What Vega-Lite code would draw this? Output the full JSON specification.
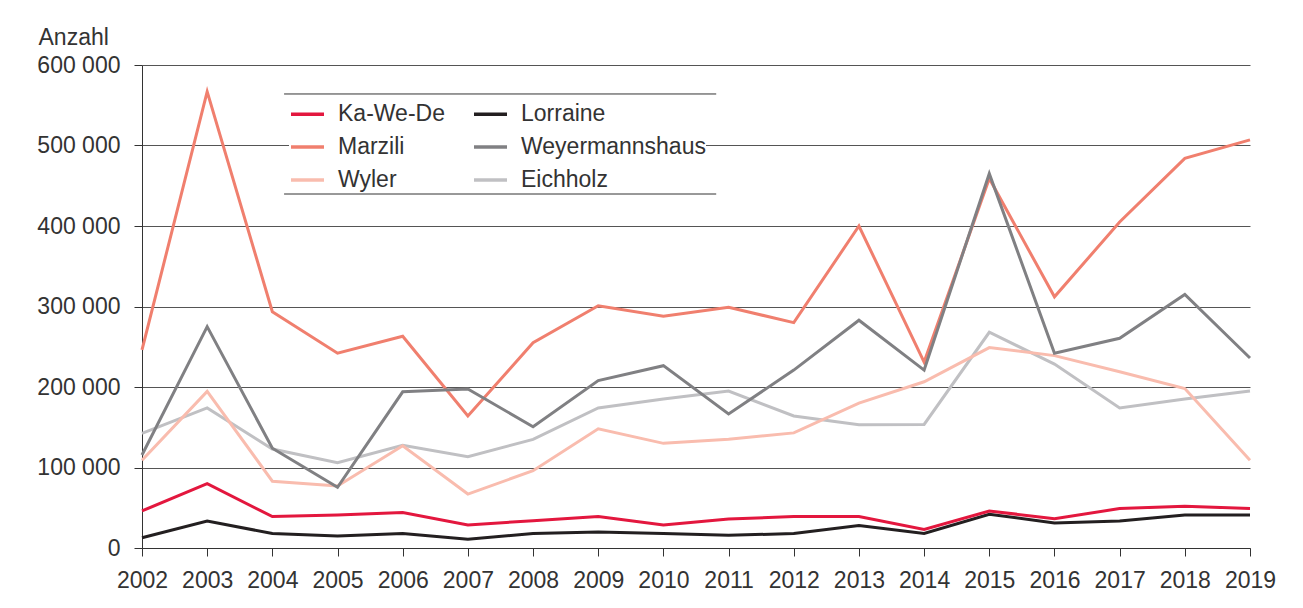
{
  "$schema": "https://vega.github.io/schema/vega-lite/v6.json",
  "width": 1108,
  "height": 483,
  "autosize": "none",
  "padding": {"left": 142, "top": 65, "right": 53, "bottom": 60},
  "background": "white",
  "config": {"font": "Liberation Sans", "view": {"stroke": null}},
  "layer": [
    {
      "data": {"values": [
        {"year": 2002, "site": "Eichholz", "value": 142500}, {"year": 2003, "site": "Eichholz", "value": 174000}, {"year": 2004, "site": "Eichholz", "value": 123000}, {"year": 2005, "site": "Eichholz", "value": 106000}, {"year": 2006, "site": "Eichholz", "value": 127500}, {"year": 2007, "site": "Eichholz", "value": 113500}, {"year": 2008, "site": "Eichholz", "value": 135000}, {"year": 2009, "site": "Eichholz", "value": 174000}, {"year": 2010, "site": "Eichholz", "value": 185000}, {"year": 2011, "site": "Eichholz", "value": 195000}, {"year": 2012, "site": "Eichholz", "value": 164000}, {"year": 2013, "site": "Eichholz", "value": 153000}, {"year": 2014, "site": "Eichholz", "value": 153500}, {"year": 2015, "site": "Eichholz", "value": 268000}, {"year": 2016, "site": "Eichholz", "value": 228500}, {"year": 2017, "site": "Eichholz", "value": 174000}, {"year": 2018, "site": "Eichholz", "value": 185000}, {"year": 2019, "site": "Eichholz", "value": 195000},
        {"year": 2002, "site": "Wyler", "value": 109000}, {"year": 2003, "site": "Wyler", "value": 194500}, {"year": 2004, "site": "Wyler", "value": 83000}, {"year": 2005, "site": "Wyler", "value": 77000}, {"year": 2006, "site": "Wyler", "value": 127000}, {"year": 2007, "site": "Wyler", "value": 67000}, {"year": 2008, "site": "Wyler", "value": 96000}, {"year": 2009, "site": "Wyler", "value": 148000}, {"year": 2010, "site": "Wyler", "value": 130000}, {"year": 2011, "site": "Wyler", "value": 135000}, {"year": 2012, "site": "Wyler", "value": 143000}, {"year": 2013, "site": "Wyler", "value": 180000}, {"year": 2014, "site": "Wyler", "value": 206500}, {"year": 2015, "site": "Wyler", "value": 249000}, {"year": 2016, "site": "Wyler", "value": 239000}, {"year": 2017, "site": "Wyler", "value": 219000}, {"year": 2018, "site": "Wyler", "value": 198000}, {"year": 2019, "site": "Wyler", "value": 109000},
        {"year": 2002, "site": "Lorraine", "value": 12800}, {"year": 2003, "site": "Lorraine", "value": 33500}, {"year": 2004, "site": "Lorraine", "value": 18000}, {"year": 2005, "site": "Lorraine", "value": 15000}, {"year": 2006, "site": "Lorraine", "value": 18000}, {"year": 2007, "site": "Lorraine", "value": 10800}, {"year": 2008, "site": "Lorraine", "value": 18000}, {"year": 2009, "site": "Lorraine", "value": 20000}, {"year": 2010, "site": "Lorraine", "value": 18000}, {"year": 2011, "site": "Lorraine", "value": 15700}, {"year": 2012, "site": "Lorraine", "value": 18000}, {"year": 2013, "site": "Lorraine", "value": 28000}, {"year": 2014, "site": "Lorraine", "value": 18000}, {"year": 2015, "site": "Lorraine", "value": 42000}, {"year": 2016, "site": "Lorraine", "value": 31000}, {"year": 2017, "site": "Lorraine", "value": 33500}, {"year": 2018, "site": "Lorraine", "value": 41000}, {"year": 2019, "site": "Lorraine", "value": 41000},
        {"year": 2002, "site": "Ka-We-De", "value": 46000}, {"year": 2003, "site": "Ka-We-De", "value": 80000}, {"year": 2004, "site": "Ka-We-De", "value": 39000}, {"year": 2005, "site": "Ka-We-De", "value": 41000}, {"year": 2006, "site": "Ka-We-De", "value": 44000}, {"year": 2007, "site": "Ka-We-De", "value": 28600}, {"year": 2008, "site": "Ka-We-De", "value": 34000}, {"year": 2009, "site": "Ka-We-De", "value": 39000}, {"year": 2010, "site": "Ka-We-De", "value": 28600}, {"year": 2011, "site": "Ka-We-De", "value": 36000}, {"year": 2012, "site": "Ka-We-De", "value": 39000}, {"year": 2013, "site": "Ka-We-De", "value": 39000}, {"year": 2014, "site": "Ka-We-De", "value": 23000}, {"year": 2015, "site": "Ka-We-De", "value": 46000}, {"year": 2016, "site": "Ka-We-De", "value": 36400}, {"year": 2017, "site": "Ka-We-De", "value": 49000}, {"year": 2018, "site": "Ka-We-De", "value": 52000}, {"year": 2019, "site": "Ka-We-De", "value": 49000},
        {"year": 2002, "site": "Marzili", "value": 246000}, {"year": 2003, "site": "Marzili", "value": 567000}, {"year": 2004, "site": "Marzili", "value": 293500}, {"year": 2005, "site": "Marzili", "value": 242000}, {"year": 2006, "site": "Marzili", "value": 263000}, {"year": 2007, "site": "Marzili", "value": 164000}, {"year": 2008, "site": "Marzili", "value": 255000}, {"year": 2009, "site": "Marzili", "value": 301000}, {"year": 2010, "site": "Marzili", "value": 288000}, {"year": 2011, "site": "Marzili", "value": 299000}, {"year": 2012, "site": "Marzili", "value": 280000}, {"year": 2013, "site": "Marzili", "value": 400000}, {"year": 2014, "site": "Marzili", "value": 231000}, {"year": 2015, "site": "Marzili", "value": 459000}, {"year": 2016, "site": "Marzili", "value": 312000}, {"year": 2017, "site": "Marzili", "value": 405000}, {"year": 2018, "site": "Marzili", "value": 484000}, {"year": 2019, "site": "Marzili", "value": 507000},
        {"year": 2002, "site": "Weyermannshaus", "value": 115500}, {"year": 2003, "site": "Weyermannshaus", "value": 275000}, {"year": 2004, "site": "Weyermannshaus", "value": 124000}, {"year": 2005, "site": "Weyermannshaus", "value": 75400}, {"year": 2006, "site": "Weyermannshaus", "value": 194000}, {"year": 2007, "site": "Weyermannshaus", "value": 197500}, {"year": 2008, "site": "Weyermannshaus", "value": 150700}, {"year": 2009, "site": "Weyermannshaus", "value": 208000}, {"year": 2010, "site": "Weyermannshaus", "value": 226500}, {"year": 2011, "site": "Weyermannshaus", "value": 166500}, {"year": 2012, "site": "Weyermannshaus", "value": 221000}, {"year": 2013, "site": "Weyermannshaus", "value": 283000}, {"year": 2014, "site": "Weyermannshaus", "value": 221000}, {"year": 2015, "site": "Weyermannshaus", "value": 465000}, {"year": 2016, "site": "Weyermannshaus", "value": 242000}, {"year": 2017, "site": "Weyermannshaus", "value": 260500}, {"year": 2018, "site": "Weyermannshaus", "value": 315000}, {"year": 2019, "site": "Weyermannshaus", "value": 236000}
      ]},
      "mark": {"type": "line", "strokeWidth": 3, "strokeJoin": "miter"},
      "encoding": {
        "x": {
          "field": "year", "type": "quantitative",
          "scale": {"domain": [2002, 2019], "nice": false, "zero": false},
          "axis": {
            "title": null,
            "values": [2002, 2003, 2004, 2005, 2006, 2007, 2008, 2009, 2010, 2011, 2012, 2013, 2014, 2015, 2016, 2017, 2018, 2019],
            "format": "d", "grid": false,
            "domainColor": "#333", "tickColor": "#333", "tickSize": 8,
            "labelFontSize": 23, "labelColor": "#333", "labelPadding": 13,
            "labelFlush": false, "labelOverlap": false
          }
        },
        "y": {
          "field": "value", "type": "quantitative",
          "scale": {"domain": [0, 600000], "nice": false},
          "axis": {
            "title": "Anzahl", "titleAngle": 0, "titleAlign": "left", "titleBaseline": "alphabetic",
            "titleX": -104, "titleY": -21, "titleFontSize": 23, "titleFontWeight": "normal", "titleColor": "#333",
            "values": [0, 100000, 200000, 300000, 400000, 500000, 600000],
            "labelExpr": "replace(format(datum.value, ','), ',', ' ')",
            "grid": true, "gridColor": "#555", "gridWidth": 1,
            "domainColor": "#333", "tickColor": "#333", "tickSize": 8,
            "labelFontSize": 23, "labelColor": "#333", "labelPadding": 14
          }
        },
        "color": {
          "field": "site", "type": "nominal",
          "scale": {
            "domain": ["Ka-We-De", "Marzili", "Wyler", "Lorraine", "Weyermannshaus", "Eichholz"],
            "range": ["#e3173e", "#f07f6e", "#f9bcae", "#231f20", "#808083", "#c0c0c3"]
          },
          "legend": {
            "title": null, "orient": "none", "legendX": 147, "legendY": 30.5,
            "columns": 2, "columnPadding": 22, "rowPadding": 2, "padding": 0,
            "symbolType": "stroke", "symbolSize": 1089, "symbolStrokeWidth": 3.5,
            "labelFontSize": 23, "labelColor": "#333", "labelOffset": 12, "labelLimit": 400,
            "fillColor": "white"
          }
        }
      }
    },
    {
      "data": {"values": [{}]},
      "mark": {"type": "rule", "color": "#333", "strokeWidth": 1},
      "encoding": {
        "x": {"datum": 2004.18, "type": "quantitative"},
        "x2": {"datum": 2010.81},
        "y": {"datum": 564000, "type": "quantitative"}
      }
    },
    {
      "data": {"values": [{}]},
      "mark": {"type": "rule", "color": "#333", "strokeWidth": 1},
      "encoding": {
        "x": {"datum": 2004.18, "type": "quantitative"},
        "x2": {"datum": 2010.81},
        "y": {"datum": 439750, "type": "quantitative"}
      }
    }
  ]
}
